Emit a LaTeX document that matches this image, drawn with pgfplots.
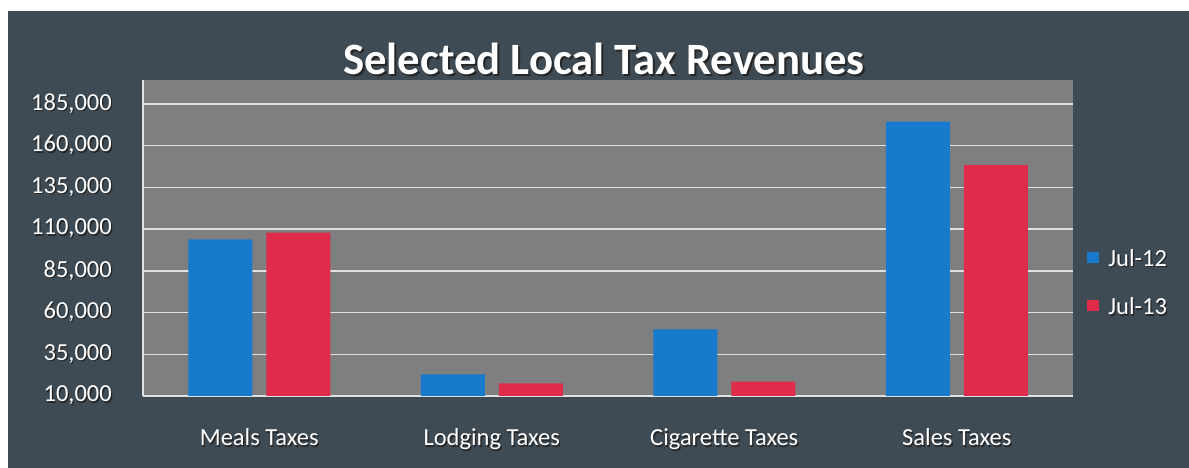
\documentclass[border=0pt]{standalone}
\usepackage{fontspec}
\setmainfont{Carlito}
\usepackage{pgfplots}
\pgfplotsset{compat=1.18}
\definecolor{bg}{RGB}{62,74,84}
\definecolor{plotbg}{RGB}{125,127,128}
\definecolor{barblue}{RGB}{24,122,204}
\definecolor{barred}{RGB}{222,44,74}
\definecolor{gridc}{RGB}{225,225,225}
\newcommand\sh[2][1.3bp]{\leavevmode\rlap{\kern#1\raisebox{-#1}{\textcolor{black!85}{#2}}}\textcolor{white}{#2}}
\pgfplotstableread{
x  j12     j13
0  103900  107900
1  23000   17600
2  50000   18600
3  174400  148400
}\taxdata
\begin{document}
\begin{tikzpicture}[x=1bp,y=1bp]
\fill[white] (0,0) rectangle (1189,468);
\fill[bg] (8,0) rectangle (1189,457);
\node[anchor=base] at (604,393) {\fontsize{44.8bp}{50bp}\selectfont\bfseries\sh[2bp]{Selected Local Tax Revenues}};
\begin{axis}[
  at={(143bp,72bp)}, anchor=south west,
  scale only axis, width=930bp, height=316bp,
  xmin=-0.5, xmax=3.5, ymin=10000, ymax=199400,
  scaled y ticks=false,
  ybar=14bp, bar width=64bp,
  axis background/.style={fill=plotbg},
  axis x line*=bottom, axis y line*=left,
  axis line style={draw=gridc, line width=1.2bp},
  ymajorgrids, major grid style={draw=gridc, line width=1.3bp},
  major tick length=0pt,
  xtick={0,1,2,3},
  xticklabels={\sh{Meals Taxes},\sh{Lodging Taxes},\sh{Cigarette Taxes},\sh{Sales Taxes}},
  ytick={10000,35000,60000,85000,110000,135000,160000,185000},
  yticklabels={\sh{10,000},\sh{35,000},\sh{60,000},\sh{85,000},\sh{110,000},\sh{135,000},\sh{160,000},\sh{185,000}},
  ticklabel style={font=\fontsize{24.5bp}{29bp}\selectfont, inner sep=0pt},
  xticklabel style={anchor=base, yshift=-50bp},
  yticklabel style={anchor=east, xshift=-31bp},
  legend style={at={(rel axis cs:1.012,0.358)}, anchor=west, draw=none, fill=none,
    font=\fontsize{24.5bp}{29bp}\selectfont, row sep=28bp,
    nodes={inner sep=1bp}},
  legend image code/.code={\fill[#1] (0bp,-4bp) rectangle (12bp,7bp); \path (20bp,0bp);},
  legend cell align=left,
]
\addplot[fill=barblue, draw=none] table[x=x, y=j12] {\taxdata};
\addplot[fill=barred, draw=none] table[x=x, y=j13] {\taxdata};
\legend{\sh{Jul-12},\sh{Jul-13}}
\end{axis}
\end{tikzpicture}
\end{document}
